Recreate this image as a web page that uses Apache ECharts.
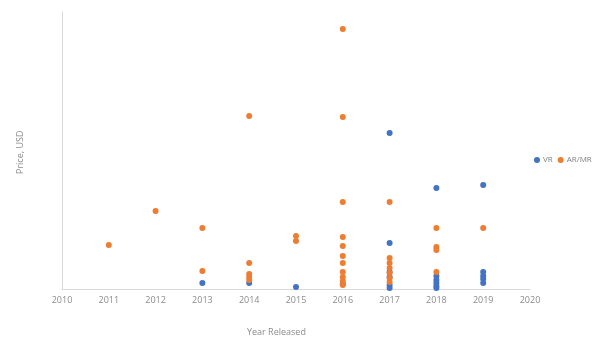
<!DOCTYPE html>
<html>
<head>
<meta charset="utf-8">
<script src="https://cdn.jsdelivr.net/npm/echarts@6/dist/echarts.min.js"></script>
<style>html,body{margin:0;padding:0;background:#fff}#c{width:601px;height:348px}</style>
</head>
<body>
<div id="c"></div>
<script>
// Release year and price (USD, estimated) per device
var vrYears  = [2013, 2014, 2015, 2016, 2017, 2017, 2017, 2017, 2017, 2017, 2018, 2018, 2018, 2018, 2018, 2018, 2019, 2019, 2019, 2019, 2019];
var vrPrices = [76,   76,   25,   63,   1971, 581,  215,  152,  51,   13,   1276, 164,  114,  76,   38,   13,   1314, 215,  164,  126,  76];

var arYears  = [2011, 2012, 2013, 2013, 2014, 2014, 2014, 2014, 2014, 2015, 2015,
                2016, 2016, 2016, 2016, 2016, 2016, 2016, 2016, 2016, 2016, 2016,
                2017, 2017, 2017, 2017, 2017, 2017, 2017,
                2018, 2018, 2018, 2018, 2019];
var arPrices = [556,  986,  771,  227,  2186, 329,  190,  152,  114,  670,  606,
                3285, 2173, 1099, 657,  543,  417,  329,  215,  152,  101,  51,
                1099, 392,  329,  265,  202,  139,  88,
                771,  531,  493,  215,  771];

var seriesNames = ['VR', 'AR/MR'];
var xTicks = [2010, 2020, 1];

function pairs(xs, ys) { return xs.map(function (x, i) { return [x, ys[i]]; }); }

var chart = echarts.init(document.getElementById('c'));
chart.setOption({
  animation: false,
  textStyle: { fontFamily: 'Open Sans, Liberation Sans, sans-serif' },
  grid: { left: 62, right: 71, top: 12, bottom: 59 },
  legend: {
    data: seriesNames,
    left: 529, top: 151,
    orient: 'horizontal',
    icon: 'circle', itemWidth: 6, itemHeight: 6, itemGap: 5,
    textStyle: { fontSize: 8, color: '#7f7f7f', padding: [0, 0, 0, -2] }
  },
  xAxis: {
    type: 'value', min: xTicks[0], max: xTicks[1], interval: xTicks[2],
    axisLine: { show: true, lineStyle: { color: '#d9d9d9', width: 1 } },
    axisTick: { show: false },
    splitLine: { show: false },
    axisLabel: { color: '#8c8c8c', fontSize: 9, margin: 7, formatter: function (v) { return String(v); } }
  },
  yAxis: {
    type: 'value', min: 0, max: 3500,
    axisLine: { show: true, lineStyle: { color: '#d9d9d9', width: 1 } },
    axisTick: { show: false },
    splitLine: { show: false },
    axisLabel: { show: false }
  },
  graphic: [
    { type: 'text', left: 247, top: 328, style: { text: 'Year Released', fontSize: 9, fill: '#8c8c8c', fontFamily: 'Open Sans, Liberation Sans, sans-serif' } },
    { type: 'text', x: 16, y: 174, rotation: Math.PI / 2, style: { text: 'Price, USD', fontSize: 9, fill: '#8c8c8c', fontFamily: 'Open Sans, Liberation Sans, sans-serif' } }
  ],
  series: [
    { name: seriesNames[0], type: 'scatter', symbolSize: 6, itemStyle: { color: '#4472C4', opacity: 1 }, data: pairs(vrYears, vrPrices) },
    { name: seriesNames[1], type: 'scatter', symbolSize: 6, itemStyle: { color: '#ED7D31', opacity: 1 }, data: pairs(arYears, arPrices) }
  ]
});
</script>
</body>
</html>
